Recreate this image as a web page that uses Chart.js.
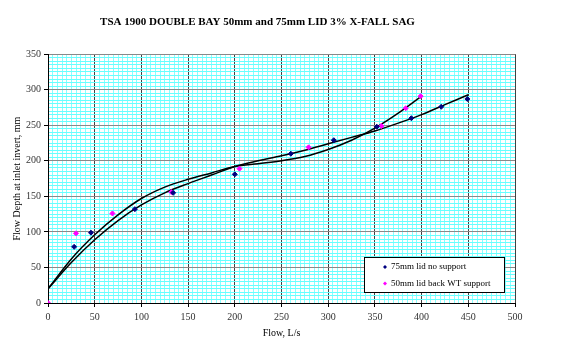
<!DOCTYPE html>
<html>
<head>
<meta charset="utf-8">
<script src="https://cdn.jsdelivr.net/npm/chart.js@4.4.1/dist/chart.umd.min.js"></script>
<style>
    body { margin: 0; background: #fff; }
    #wrap { width: 575px; height: 353px; position: relative; }
</style>
</head>
<body>
<div id="wrap"><canvas id="sagChart"></canvas></div>
<script>
// measured points
const navyX = [28, 46, 93, 134, 200, 260, 306, 352, 389, 421, 449];
const navyY = [79, 99, 132, 155, 181, 210, 229, 248, 260, 276, 287];
const magX = [0, 30, 69, 132, 205, 279, 357, 383, 399];
const magY = [0, 98, 126, 156, 189, 219, 249, 274, 291];

// trendlines
const navyTrendX = [0, 25, 50, 75, 100, 125, 150, 175, 200, 225, 250, 275, 300, 325, 350, 375, 400, 425, 450];
const navyTrendY = [20, 57, 89, 116, 138, 155, 168, 180, 192, 200, 207, 215, 224, 233, 242, 253, 265, 279, 293];
const magTrendX = [0, 25, 50, 75, 100, 125, 150, 175, 200, 225, 250, 275, 300, 325, 350, 375, 400];
const magTrendY = [20, 62, 96, 124, 147, 163, 174, 183, 192, 196, 200, 206, 216, 229, 246, 267, 291];

const xTicks = [0, 50, 100, 150, 200, 250, 300, 350, 400, 450, 500];
const yTicks = [0, 50, 100, 150, 200, 250, 300, 350];

const pts = (xs, ys) => xs.map((x, i) => ({ x: x, y: ys[i] }));

const serif = "'Liberation Serif', 'Times New Roman', serif";
Chart.defaults.font.family = serif;
Chart.defaults.font.size = 10;
Chart.defaults.color = '#333';

function isMajor(ctx) {
    return ctx.tick && ctx.tick.value % 50 === 0;
}

// legend box inside the plot
const boxLegend = {
    id: 'boxLegend',
    afterDraw(chart) {
        const { ctx, chartArea } = chart;
        const w = 140, h = 35;
        const x = chartArea.right - 11 - w;
        const y = chartArea.bottom - 11 - h;
        ctx.save();
        ctx.fillStyle = '#fff';
        ctx.fillRect(x, y, w, h);
        ctx.strokeStyle = '#000';
        ctx.lineWidth = 1;
        ctx.strokeRect(x + 0.5, y + 0.5, w, h);
        ctx.font = '9px ' + serif;
        ctx.textBaseline = 'middle';
        let row = 0;
        chart.data.datasets.forEach(ds => {
            if (!ds.label) return;
            const cy = y + 10 + row * 16.5;
            const cx = x + 21;
            ctx.fillStyle = ds.backgroundColor;
            ctx.beginPath();
            ctx.moveTo(cx, cy - 2);
            ctx.lineTo(cx + 2, cy);
            ctx.lineTo(cx, cy + 2);
            ctx.lineTo(cx - 2, cy);
            ctx.closePath();
            ctx.fill();
            ctx.fillStyle = '#000';
            ctx.fillText(ds.label, x + 27, cy);
            row++;
        });
        ctx.restore();
    }
};

new Chart(document.getElementById('sagChart'), {
    type: 'scatter',
    data: {
        datasets: [
            {
                label: '75mm lid no support',
                data: pts(navyX, navyY),
                backgroundColor: '#000080',
                borderColor: '#000080',
                pointStyle: 'rectRot',
                pointRadius: 2.5,
                order: 1
            },
            {
                label: '50mm lid back WT support',
                data: pts(magX, magY),
                backgroundColor: '#ff00ff',
                borderColor: '#ff00ff',
                pointStyle: 'rectRot',
                pointRadius: 2.5,
                order: 1
            },
            {
                data: pts(navyTrendX, navyTrendY),
                showLine: true,
                borderColor: '#000',
                borderWidth: 1.5,
                pointRadius: 0,
                cubicInterpolationMode: 'monotone',
                order: 2
            },
            {
                data: pts(magTrendX, magTrendY),
                showLine: true,
                borderColor: '#000',
                borderWidth: 1.5,
                pointRadius: 0,
                cubicInterpolationMode: 'monotone',
                order: 2
            }
        ]
    },
    options: {
        responsive: true,
        maintainAspectRatio: false,
        animation: false,
        layout: {
            padding: { left: 0, right: 60, top: 0, bottom: 0 }
        },
        plugins: {
            legend: { display: false },
            tooltip: { enabled: false },
            title: {
                display: true,
                text: 'TSA 1900 DOUBLE BAY 50mm and 75mm LID 3% X-FALL SAG',
                color: '#000',
                font: { size: 11, weight: 'bold', family: serif },
                padding: { top: 16, bottom: 25 }
            }
        },
        scales: {
            x: {
                type: 'linear',
                min: 0,
                max: 500,
                afterFit: function(scale) { scale.height = 50; },
                ticks: {
                    stepSize: 5,
                    autoSkip: false,
                    maxRotation: 0,
                    padding: 4,
                    callback: function(value) {
                        return xTicks.includes(value) ? value : '';
                    }
                },
                grid: {
                    color: ctx => isMajor(ctx) ? '#404040' : '#8ff',
                    tickColor: ctx => isMajor(ctx) ? '#000' : 'rgba(0,0,0,0)',
                    tickLength: 4
                },
                border: { color: '#000' },
                title: {
                    display: true,
                    text: 'Flow, L/s',
                    color: '#000',
                    font: { size: 10, family: serif },
                    padding: { top: 0, bottom: 14 }
                }
            },
            y: {
                type: 'linear',
                min: 0,
                max: 350,
                afterFit: function(scale) { scale.width = 48; },
                ticks: {
                    stepSize: 5,
                    autoSkip: false,
                    padding: 3,
                    callback: function(value) {
                        return yTicks.includes(value) ? value : '';
                    }
                },
                grid: {
                    color: ctx => isMajor(ctx) ? '#888' : '#6ff',
                    tickColor: ctx => isMajor(ctx) ? '#000' : 'rgba(0,0,0,0)',
                    tickLength: 4
                },
                border: { color: '#000' },
                title: {
                    display: true,
                    text: 'Flow Depth at inlet invert, mm',
                    color: '#000',
                    font: { size: 10, family: serif },
                    padding: { top: 11, bottom: 0 }
                }
            }
        }
    },
    plugins: [boxLegend]
});
</script>
</body>
</html>
